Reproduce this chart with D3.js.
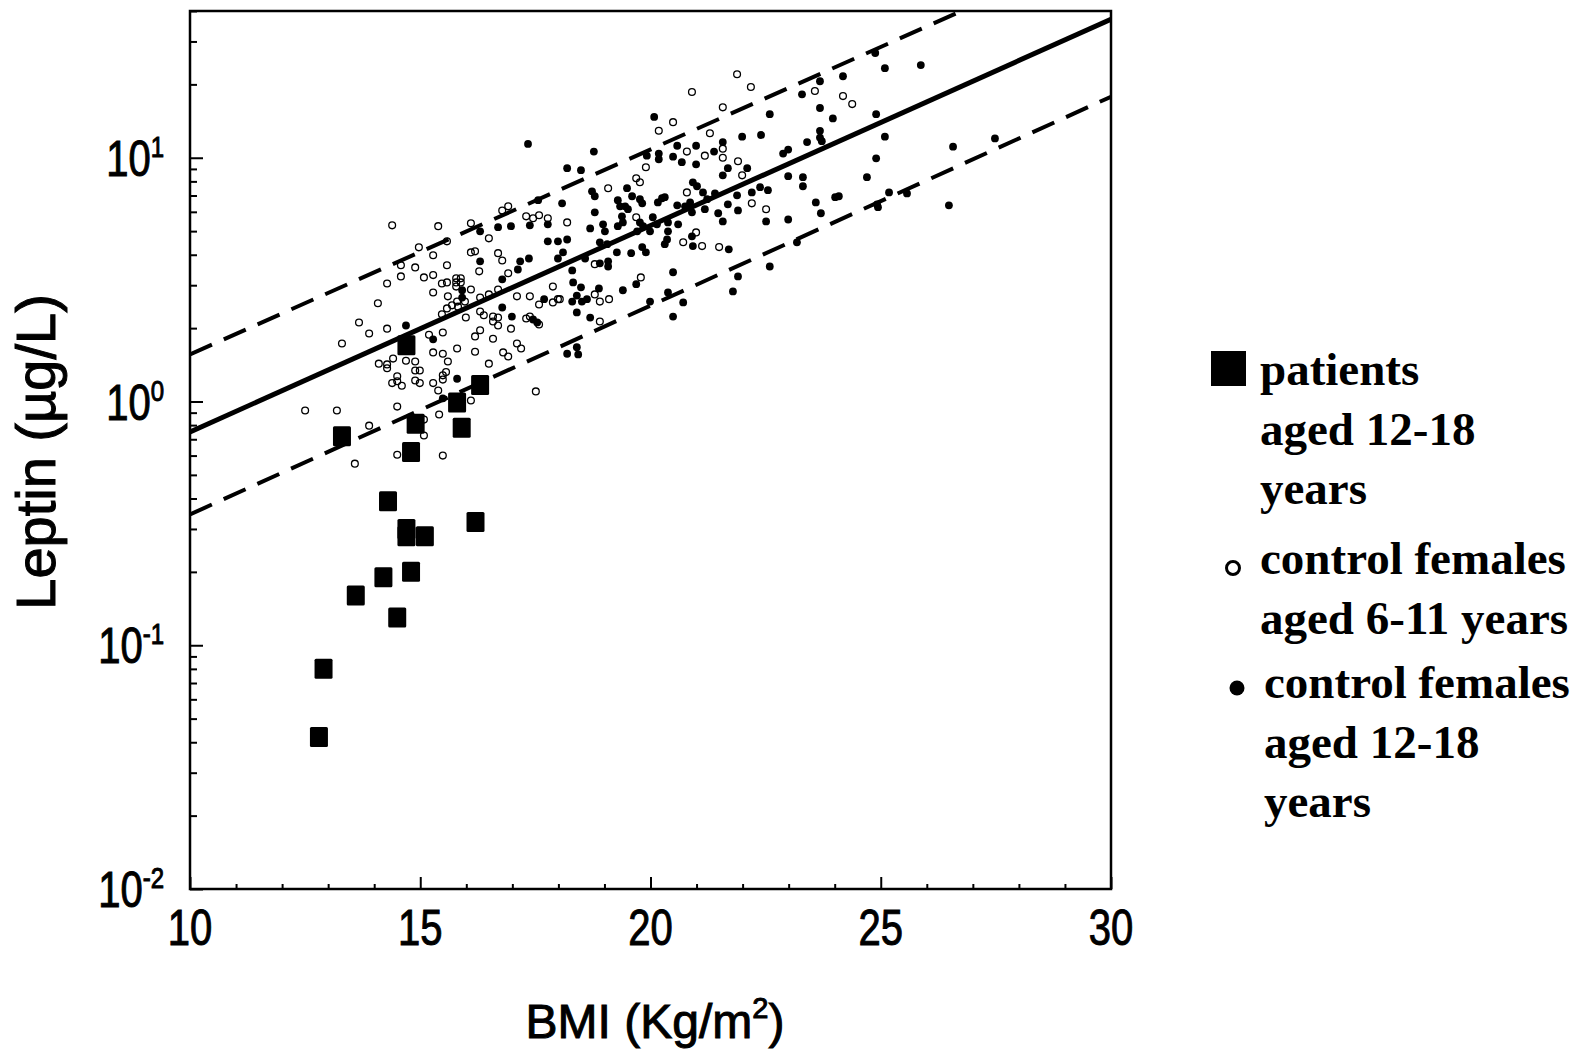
<!DOCTYPE html>
<html>
<head>
<meta charset="utf-8">
<script src="https://cdn.jsdelivr.net/npm/d3@7"></script>
<style>
  body { margin: 0; background: #fff; }
  svg { display: block; }
</style>
</head>
<body>
<div id="chart"></div>
<script>
// Patients aged 12-18 years: [BMI, leptin]
var patients = [
  [14.7,1.70],[13.3,0.72],[14.9,0.81],[15.8,0.99],[16.3,1.17],[15.9,0.78],[14.8,0.62],[14.3,0.39],[14.7,0.30],
  [14.7,0.28],[15.1,0.28],[16.2,0.32],[14.2,0.19],[14.8,0.20],[13.6,0.16],[14.5,0.13],[12.9,0.08],[12.8,0.042]
];

// Control females aged 6-11 years (open circles)
var controlsYoung = [
  [14.39,5.28],[15.39,5.24],[16.10,5.38],[16.78,6.08],[16.91,6.32],[17.30,5.75],[17.45,5.65],[17.58,5.81],[17.77,5.65],[18.19,5.43],
  [16.49,4.67],[15.58,4.54],[14.97,4.29],[16.10,4.09],[16.19,4.13],[16.69,4.06],[16.78,3.79],[16.28,3.42],[15.28,3.98],[14.58,3.62],
  [14.89,3.55],[14.58,3.26],[15.08,3.23],[15.28,3.30],[15.58,3.62],[14.28,3.05],[15.47,3.05],[15.58,3.08],[15.78,3.20],[15.88,3.20],
  [15.78,3.08],[15.88,3.08],[15.78,2.96],[16.10,2.88],[15.28,2.80],[15.60,2.70],[16.91,3.36],[16.69,2.88],[16.49,2.75],[16.30,2.67],
  [17.10,2.70],[17.38,2.70],[17.88,2.96],[14.08,2.53],[15.58,2.41],[15.69,2.48],[15.82,2.45],[15.80,2.57],[15.97,2.57],[15.47,2.28],
  [15.99,2.21],[16.30,2.34],[16.38,2.26],[16.58,2.23],[16.69,2.21],[16.58,2.13],[16.69,2.05],[16.97,1.99],[17.30,2.19],[17.38,2.23],
  [17.58,2.07],[17.58,2.50],[17.88,2.55],[17.99,2.63],[13.67,2.11],[13.89,1.90],[14.28,1.99],[15.49,1.92],[15.19,1.88],[16.19,1.85],
  [16.30,1.96],[16.58,1.81],[13.30,1.73],[15.28,1.59],[15.49,1.57],[15.80,1.65],[15.60,1.46],[16.19,1.60],[16.80,1.59],[16.91,1.53],
  [17.10,1.73],[17.19,1.65],[16.49,1.43],[14.10,1.43],[14.28,1.42],[14.28,1.37],[14.41,1.50],[14.69,1.47],[14.89,1.46],[14.89,1.34],
  [14.99,1.34],[14.50,1.27],[14.50,1.21],[14.39,1.19],[14.60,1.16],[14.89,1.22],[14.99,1.19],[15.28,1.19],[15.39,1.11],[15.49,1.23],
  [15.49,1.28],[15.56,1.32],[14.50,0.953],[15.41,0.885],[16.10,1.01],[17.51,1.10],[12.50,0.918],[13.19,0.918],[13.89,0.796],[15.08,0.843],
  [15.08,0.725],[14.50,0.605],[15.49,0.600],[13.58,0.556],
  [21.88,22.0],[22.18,19.5],[20.90,18.6],[21.57,16.1],[20.49,14.0],[20.18,12.9],[21.29,12.6],[20.79,10.6],[21.18,10.2],[21.57,10.9],
  [21.57,10.0],[21.90,9.68],[19.90,9.14],[21.99,8.47],[19.69,8.24],[19.77,7.93],[19.08,7.50],[20.79,7.21],[22.20,6.50],[22.51,6.15],
  [19.69,5.70],[20.99,4.94],[23.57,18.8],[24.18,17.9],[24.38,16.6],
  [18.79,3.66],[19.79,3.23],[20.71,4.50],[21.12,4.34],[21.49,4.30],[18.79,2.75],[18.90,2.57],[19.10,2.63],[18.90,2.13],[18.03,2.63]
];

// Control females aged 12-18 years (filled dots)
var controlsOld = [
  [16.30,4.99],[16.69,5.19],[16.97,5.24],[17.38,5.28],[17.56,6.70],[18.08,6.50],[17.77,5.33],[17.77,4.54],[17.99,4.54],[18.19,4.62],
  [16.30,3.76],[17.17,3.76],[17.36,3.86],[17.12,3.48],[17.99,3.86],[18.10,4.09],[18.30,3.45],[18.32,3.08],[15.91,2.86],[15.91,2.67],
  [16.78,3.17],[16.78,2.43],[16.99,2.23],[17.69,2.63],[18.30,2.57],[18.40,2.72],[18.40,2.32],[17.45,2.17],[17.54,2.11],[14.69,2.05],
  [15.28,1.80],[18.19,1.57],[18.40,1.67],[18.43,1.56],[15.80,1.24],[15.49,1.03],
  [20.08,14.7],[18.77,10.6],[18.19,9.06],[18.49,8.89],[19.92,10.2],[20.18,10.4],[20.18,9.86],[20.58,11.2],[20.49,10.1],[20.68,9.59],
  [20.99,11.2],[20.99,9.40],[21.38,10.6],[21.57,11.6],[21.99,12.2],[22.40,12.4],[22.59,15.1],[23.29,18.2],[23.40,11.6],[22.99,10.8],
  [22.88,10.4],[21.68,9.06],[21.57,8.47],[22.10,9.06],[22.99,8.40],[20.92,7.93],[21.01,7.64],[22.38,7.57],[22.55,7.36],[22.20,7.21],
  [21.88,7.01],[21.68,6.44],[21.90,6.08],[22.51,5.48],[22.99,5.58],[21.47,5.92],[21.57,5.48],[21.14,7.21],[21.23,6.76],[21.18,6.15],
  [21.40,7.14],[20.86,6.56],[20.75,6.32],[20.90,5.97],[20.58,6.38],[20.25,6.82],[20.31,6.89],[20.16,6.56],[19.77,6.76],[19.82,6.50],
  [19.49,7.50],[19.60,6.95],[19.51,6.15],[19.29,6.70],[19.34,6.32],[19.45,6.32],[18.73,7.28],[18.79,6.95],[18.79,5.97],[18.97,5.33],
  [19.01,4.99],[18.69,5.13],[19.38,5.75],[19.40,5.43],[19.29,5.24],[19.77,5.43],[19.84,5.24],[19.71,4.99],[20.05,5.70],[20.14,5.33],
  [19.99,4.99],[20.38,5.43],[20.38,4.99],[20.60,5.33],
  [24.88,26.9],[25.09,23.3],[25.87,24.0],[23.68,20.6],[24.18,21.6],[23.68,16.0],[23.96,14.5],[24.90,15.1],[23.68,12.9],[23.68,12.1],
  [23.72,11.7],[25.09,12.2],[24.90,9.95],[24.70,8.32],[26.57,11.1],[27.48,12.0],[23.31,8.32],[23.31,7.64],[23.59,6.56],[23.70,5.92],
  [24.01,6.89],[24.09,6.95],[25.18,7.21],[24.92,6.44],[24.94,6.27],[25.57,7.14],[26.48,6.38],
  [18.90,4.50],[19.06,4.42],[19.27,4.09],[19.58,4.06],[19.82,4.30],[19.90,4.09],[20.31,4.42],[20.36,4.62],[20.90,4.76],[20.92,4.34],
  [21.70,4.21],[19.08,3.76],[19.08,3.58],[18.90,3.69],[18.58,3.86],[20.49,3.39],[18.49,2.94],[18.88,2.91],[19.40,2.86],[19.69,3.03],
  [18.51,2.57],[18.62,2.63],[18.69,2.21],[19.99,2.57],[20.38,2.80],[20.71,2.55],[20.49,2.23],[21.90,3.26],[21.79,2.83],[22.59,3.58],
  [23.18,4.50],[17.34,11.4]
];

// Regression line and its limits (end points in data units)
var fitMean = [[10, 0.75], [30, 37]];
var fitUpper = [[10, 1.56], [30, 75]];
var fitLower = [[10, 0.344], [30, 17.8]];

// Axis ticks and labels
var xMajor = [10, 15, 20, 25, 30];
var yMajor = [0.01, 0.1, 1, 10];
var yExponents = ["-2", "-1", "0", "1"];
var legendGroups = [
  {marker: "square", lines: ["patients", "aged 12-18", "years"]},
  {marker: "open", lines: ["control females", "aged 6-11 years"]},
  {marker: "filled", lines: ["control females", "aged 12-18", "years"]}
];

// Basic size information
var width = 1590, height = 1052;
var plot = {left: 190, right: 1111, top: 11, bottom: 889};

var svg = d3.select("#chart")
    .append("svg")
        .attr("width", width)
        .attr("height", height);

// Scales
var x = d3.scaleLinear().domain([10, 30]).range([plot.left, plot.right]);
var y = d3.scaleLog().domain([0.01, 40]).range([plot.bottom, plot.top]);

// Minor tick values
var xMinor = d3.range(10, 31).filter(v => xMajor.indexOf(v) < 0);
var yMinor = [];
yMajor.forEach(d => { for (var k = 2; k <= 9; k++) if (d * k <= 40) yMinor.push(d * k); });

// Ticks drawn inside the frame
function ticks(g) {
    g.selectAll(".domain").remove();
    g.selectAll("line").attr("stroke", "#000").attr("stroke-width", 2);
}
svg.append("g")
    .attr("transform", "translate(0," + plot.bottom + ")")
    .call(d3.axisBottom(x).tickValues(xMinor).tickSize(-5).tickFormat(""))
    .call(ticks);
svg.append("g")
    .attr("transform", "translate(0," + plot.bottom + ")")
    .call(d3.axisBottom(x).tickValues(xMajor).tickSize(-12).tickFormat(""))
    .call(ticks);
svg.append("g")
    .attr("transform", "translate(" + plot.left + ",0)")
    .call(d3.axisLeft(y).tickValues(yMinor).tickSize(-7).tickFormat(""))
    .call(ticks);
svg.append("g")
    .attr("transform", "translate(" + plot.left + ",0)")
    .call(d3.axisLeft(y).tickValues(yMajor).tickSize(-13).tickFormat(""))
    .call(ticks);

// Frame
svg.append("rect")
    .attr("x", plot.left)
    .attr("y", plot.top)
    .attr("width", plot.right - plot.left)
    .attr("height", plot.bottom - plot.top)
    .attr("fill", "none")
    .attr("stroke", "#000")
    .attr("stroke-width", 2.5);

// Tick labels (narrow sans digits, slightly heavy like the print)
var labelFont = "'Liberation Sans', Arial, Helvetica, sans-serif";
svg.append("g").selectAll("text")
    .data(xMajor)
    .join("text")
        .attr("transform", d => "translate(" + x(d) + ",945) scale(0.8,1)")
        .attr("text-anchor", "middle")
        .attr("stroke", "#000")
        .attr("stroke-width", 1)
        .style("font", "50px " + labelFont)
        .text(d => d);

var yLab = svg.append("g").selectAll("text")
    .data(yMajor)
    .join("text")
        .attr("transform", d => "translate(164," + (y(d) + 18) + ") scale(0.8,1)")
        .attr("text-anchor", "end")
        .attr("stroke", "#000")
        .attr("stroke-width", 1)
        .style("font", "50px " + labelFont);
yLab.append("tspan").text("10");
yLab.append("tspan")
    .attr("dy", -19)
    .style("font-size", "30px")
    .text((d, i) => yExponents[i]);

// Axis titles
var xTitle = svg.append("text")
    .attr("x", 655)
    .attr("y", 1038)
    .attr("text-anchor", "middle")
    .attr("stroke", "#000")
    .attr("stroke-width", 1)
    .style("font", "48px " + labelFont);
xTitle.append("tspan").text("BMI (Kg/m");
xTitle.append("tspan").attr("dy", -20).style("font-size", "29px").text("2");
xTitle.append("tspan").attr("dy", 20).text(")");

svg.append("text")
    .attr("transform", "translate(55,452) rotate(-90)")
    .attr("text-anchor", "middle")
    .attr("stroke", "#000")
    .attr("stroke-width", 1)
    .style("font", "56px " + labelFont)
    .text("Leptin (\u00b5g/L)");

// Clip to the frame
svg.append("clipPath")
    .attr("id", "clip")
    .append("rect")
        .attr("x", plot.left)
        .attr("y", plot.top)
        .attr("width", plot.right - plot.left)
        .attr("height", plot.bottom - plot.top);

var area = svg.append("g").attr("clip-path", "url(#clip)");

// Regression lines
var line = d3.line().x(d => x(d[0])).y(d => y(d[1]));
area.append("path")
    .datum(fitMean)
    .attr("d", line)
    .attr("fill", "none")
    .attr("stroke", "#000")
    .attr("stroke-width", 5);
[fitUpper, fitLower].forEach(function (f) {
    area.append("path")
        .datum(f)
        .attr("d", line)
        .attr("fill", "none")
        .attr("stroke", "#000")
        .attr("stroke-width", 4)
        .attr("stroke-dasharray", "24,13");
});

// Controls
area.append("g").selectAll("circle")
    .data(controlsYoung)
    .join("circle")
        .attr("cx", d => x(d[0]))
        .attr("cy", d => y(d[1]))
        .attr("r", 3.4)
        .attr("fill", "none")
        .attr("stroke", "#000")
        .attr("stroke-width", 1.3);
area.append("g").selectAll("circle")
    .data(controlsOld)
    .join("circle")
        .attr("cx", d => x(d[0]))
        .attr("cy", d => y(d[1]))
        .attr("r", 3.9)
        .attr("fill", "#000");

// Patients
var sq = 18;
area.append("g").selectAll("rect")
    .data(patients)
    .join("rect")
        .attr("x", d => x(d[0]) - sq / 2)
        .attr("y", d => y(d[1]) - sq / 2 - 1)
        .attr("width", sq)
        .attr("height", sq + 2)
        .attr("rx", 1.5)
        .attr("fill", "#000");

// Legend
var legendFont = "bold 47px 'Liberation Serif', 'Times New Roman', serif";
var groupTop = [385, 574, 698];
var lineStep = 59.5;
legendGroups.forEach(function (grp, gi) {
    var base = groupTop[gi];
    var g = svg.append("g");
    if (grp.marker === "square") {
        g.append("rect").attr("x", 1211).attr("y", base - 34).attr("width", 35).attr("height", 35).attr("fill", "#000");
    } else if (grp.marker === "open") {
        g.append("circle").attr("cx", 1233).attr("cy", base - 6).attr("r", 6.5)
            .attr("fill", "none").attr("stroke", "#000").attr("stroke-width", 3);
    } else {
        g.append("circle").attr("cx", 1237).attr("cy", base - 10).attr("r", 7.5).attr("fill", "#000");
    }
    g.selectAll("text")
        .data(grp.lines)
        .join("text")
            .attr("x", gi === 2 ? 1264 : 1260)
            .attr("y", (d, i) => base + i * lineStep)
            .style("font", legendFont)
            .text(d => d);
});
</script>
</body>
</html>
